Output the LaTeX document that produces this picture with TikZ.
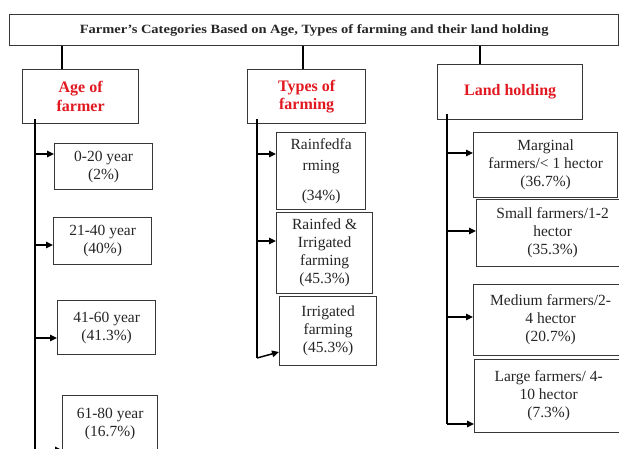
\documentclass[tikz,border=0pt]{standalone}
\usepackage{fontspec}
\setmainfont{Liberation Serif}
\usetikzlibrary{arrows.meta}
\definecolor{hdrred}{RGB}{226,24,32}
\definecolor{boxgrey}{RGB}{55,55,55}
\begin{document}
\begin{tikzpicture}[x=1pt,y=-1pt,
  box/.style={draw=boxgrey, line width=1.3pt, align=center, inner sep=0pt, anchor=north west,
    font=\fontsize{15.5}{18}\selectfont, text=black!85},
  hdr/.style={box, font=\fontsize{16}{18.5}\selectfont\bfseries, text=hdrred},
  conn/.style={line width=1.9pt, black},
  arr/.style={line width=1.5pt, black, -{Triangle[length=7pt,width=6.5pt]}}]
\useasboundingbox (0,0) rectangle (619,448);
\fill[white] (0,0) rectangle (619,448);
\clip (0,0) rectangle (619,448);

% title
\node[box, minimum width=609pt, minimum height=31pt] (title) at (9,14)
  {\scalebox{1.15}[1]{\fontsize{12.6}{14}\selectfont\bfseries Farmer’s Categories Based on Age, Types of farming and their land holding}};

% headers
\node[hdr, minimum width=116pt, minimum height=54pt] (hA) at (22,69) {Age of\\farmer};
\node[hdr, minimum width=118pt, minimum height=54pt] (hT) at (247,69) {Types of\\farming};
\node[hdr, minimum width=145pt, minimum height=55pt] (hL) at (437,64) {\raisebox{5pt}{Land holding}};

\draw[conn] (title.south -| 62,0) -- (hA.north -| 62,0);
\draw[conn] (title.south -| 303,0) -- (hT.north -| 303,0);
\draw[conn] (title.south -| 480,0) -- (hL.north -| 480,0);

% age boxes
\node[box, minimum width=98pt, minimum height=46pt] (b1) at (54,143) {0-20 year\\(2\%)};
\node[box, minimum width=98pt, minimum height=47pt] (b2) at (53,217) {21-40 year\\(40\%)};
\node[box, minimum width=98pt, minimum height=54pt] (b3) at (57,300) {41-60 year\\(41.3\%)};
\node[box, minimum width=95pt, minimum height=57pt] (b4) at (62,395) {61-80 year\\(16.7\%)};

% types boxes
\node[box, minimum width=89pt, minimum height=77pt] (r1) at (276,132) {Rainfedfa\\[3pt]rming\\[12pt](34\%)};
\node[box, minimum width=96pt, minimum height=81pt] (r2) at (276,212) {Rainfed \&\\Irrigated\\farming\\(45.3\%)};
\node[box, minimum width=97pt, minimum height=69pt] (r3) at (279,296) {Irrigated\\farming\\(45.3\%)};

% land boxes
\node[box, minimum width=144pt, minimum height=65pt] (l1) at (473,132) {Marginal\\farmers/< 1 hector\\(36.7\%)};
\node[box, minimum width=152pt, minimum height=67pt] (l2) at (476,199) {Small farmers/1-2\\hector\\(35.3\%)};
\node[box, minimum width=154pt, minimum height=71pt] (l3) at (473,284) {Medium farmers/2-\\4 hector\\(20.7\%)};
\node[box, minimum width=148pt, minimum height=73pt] (l4) at (474,359) {Large farmers/ 4-\\10 hector\\(7.3\%)};

% spines
\coordinate (sA) at (35,119);  \coordinate (eA) at (35,452);
\coordinate (sT) at (257,119); \coordinate (eT) at (257,358);
\coordinate (sL) at (447,114); \coordinate (eL) at (447,424);
\draw[conn] (sA) -- (eA);
\draw[conn] (sT) -- (eT);
\draw[conn] (sL) -- (eL);

% age arrows
\draw[arr] (sA |- 0,154) -- (b1.west |- 0,154);
\draw[arr] (sA |- 0,245) -- (b2.west |- 0,245);
\draw[arr] (sA |- 0,338) -- (b3.west |- 0,338);
\draw[arr] (sA |- 0,450) -- (b4.west |- 0,450);

% types arrows
\draw[arr] (sT |- 0,154) -- (r1.west |- 0,154);
\draw[arr] (sT |- 0,241) -- (r2.west |- 0,241);
\draw[arr] (eT) -- (r3.west |- 0,352);

% land arrows
\draw[arr] (sL |- 0,153) -- (l1.west |- 0,153);
\draw[arr] (sL |- 0,231) -- (l2.west |- 0,231);
\draw[arr] (sL |- 0,317) -- (l3.west |- 0,317);
\draw[arr] (eL) -- (l4.west |- 0,424);
\end{tikzpicture}
\end{document}
